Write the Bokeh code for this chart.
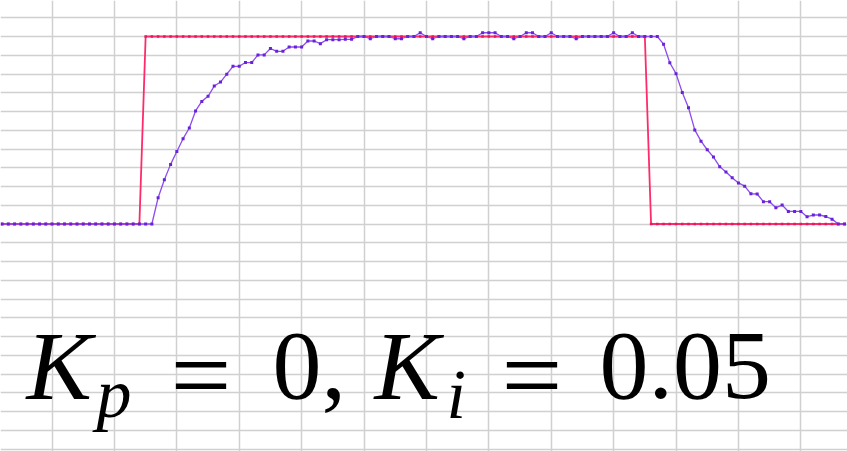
from bokeh.plotting import figure
from bokeh.models import Range1d, FixedTicker, Label, Grid, ColumnDataSource
from bokeh.embed import file_html
from bokeh.resources import INLINE

# ---- data (sample index, setpoint, measured response) ----
sample = list(range(0, 137))

setpoint = [
    0, 0, 0, 0, 0, 0, 0, 0, 0, 0, 0, 0, 0, 0, 0, 0, 0, 0, 0, 0, 0, 0, 0,
    1, 1, 1, 1, 1, 1, 1, 1, 1, 1, 1, 1, 1, 1, 1, 1, 1, 1, 1, 1, 1, 1, 1, 1, 1, 1, 1,
    1, 1, 1, 1, 1, 1, 1, 1, 1, 1, 1, 1, 1, 1, 1, 1, 1, 1, 1, 1, 1, 1, 1, 1, 1, 1, 1,
    1, 1, 1, 1, 1, 1, 1, 1, 1, 1, 1, 1, 1, 1, 1, 1, 1, 1, 1, 1, 1, 1, 1, 1, 1, 1, 1,
    0, 0, 0, 0, 0, 0, 0, 0, 0, 0, 0, 0, 0, 0, 0, 0, 0, 0, 0, 0, 0, 0, 0, 0, 0, 0, 0,
    0, 0, 0, 0, 0,
]

response = [
    0, 0, 0, 0, 0, 0, 0, 0, 0, 0, 0, 0, 0, 0, 0, 0, 0, 0, 0, 0, 0, 0, 0, 0, 0,
    0.140, 0.236, 0.318, 0.387, 0.455, 0.512, 0.603, 0.654, 0.681, 0.736,
    0.757, 0.799, 0.841, 0.841, 0.861, 0.861, 0.902, 0.902, 0.936, 0.921,
    0.921, 0.944, 0.944, 0.944, 0.976, 0.976, 0.962, 0.983, 0.983, 0.983,
    0.985, 0.985, 1.0, 1.0, 0.988, 1.0, 1.0, 1.0, 0.988, 0.988,
    1.0, 1.0, 1.02, 1.0, 0.988, 1.0, 1.0, 1.0, 1.0, 0.988,
    1.0, 1.0, 1.02, 1.02, 1.02, 1.0, 1.0, 0.988, 1.0, 1.02,
    1.02, 1.0, 1.0, 1.02, 1.0, 1.0, 1.0, 0.988, 1.0, 1.0,
    1.0, 1.0, 1.0, 1.02, 1.0, 1.0, 1.02, 1.0, 1.0, 1.0,
    1.0, 0.959, 0.860, 0.802, 0.701, 0.620, 0.502, 0.442, 0.396, 0.357,
    0.306, 0.277, 0.247, 0.219, 0.202, 0.161, 0.160, 0.119, 0.119, 0.087,
    0.101, 0.067, 0.067, 0.067, 0.039, 0.048, 0.048, 0.040, 0.026, 0,
    0, 0, 0,
]

# spreadsheet cell grid (columns every 10 samples, rows every 0.1)
col_lines = [-2, 8, 18, 28, 38, 48, 58, 68, 78, 88, 98, 108, 118, 128, 138]
row_lines = [-1.3, -1.2, -1.1, -1.0, -0.9, -0.8, -0.7, -0.6, -0.5, -0.4, -0.3, -0.2, -0.1,
             0.0, 0.1, 0.2, 0.3, 0.4, 0.5, 0.6, 0.7, 0.8, 0.9, 1.0, 1.1, 1.2]

W, H = 847, 451
p = figure(width=W, height=H, output_backend="svg", toolbar_location=None,
           x_range=Range1d(-0.2596, 135.478), y_range=Range1d(-1.2133, 1.192),
           min_border=0, x_axis_location=None, y_axis_location=None)
p.outline_line_color = None
p.background_fill_color = "white"
p.grid.visible = False

gcol = "#d0d0d0"
p.add_layout(Grid(dimension=0, ticker=FixedTicker(ticks=col_lines),
                  grid_line_color=gcol, grid_line_width=1.5))
p.add_layout(Grid(dimension=1, ticker=FixedTicker(ticks=row_lines),
                  grid_line_color=gcol, grid_line_width=1.5))

src = ColumnDataSource(dict(t=sample, sp=setpoint, pv=response))

p.line("t", "sp", source=src, line_color="#ff2a6a", line_width=1.8)
p.scatter("t", "sp", source=src, marker="square", size=2.5,
          fill_color="#e8185c", line_color=None)
p.line("t", "pv", source=src, line_color="#8c4cf0", line_width=1.3)
p.scatter("t", "pv", source=src, marker="square", size=3,
          fill_color="#6a22d8", line_color=None)

FONT = "Liberation Serif"
BIG = "98px"
EQ = "108px"
SMALL = "70px"


def lab(x, y, text, size, style):
    p.add_layout(Label(x=x, y=y, x_units="screen", y_units="screen", text=text,
                       text_font=FONT, text_font_size=size, text_font_style=style,
                       text_color="black", text_baseline="alphabetic",
                       text_align="left"))


lab(26, 86, "K", BIG, "italic")
lab(96, 58, "p", SMALL, "italic")
lab(170, 77, "=", EQ, "normal")
lab(272, 86, "0,", BIG, "normal")
lab(374, 86, "K", BIG, "italic")
lab(446, 57, "i", SMALL, "italic")
lab(501, 77, "=", EQ, "normal")
lab(599, 86, "0.05", BIG, "normal")

open("out.html", "w").write(file_html(p, INLINE))
